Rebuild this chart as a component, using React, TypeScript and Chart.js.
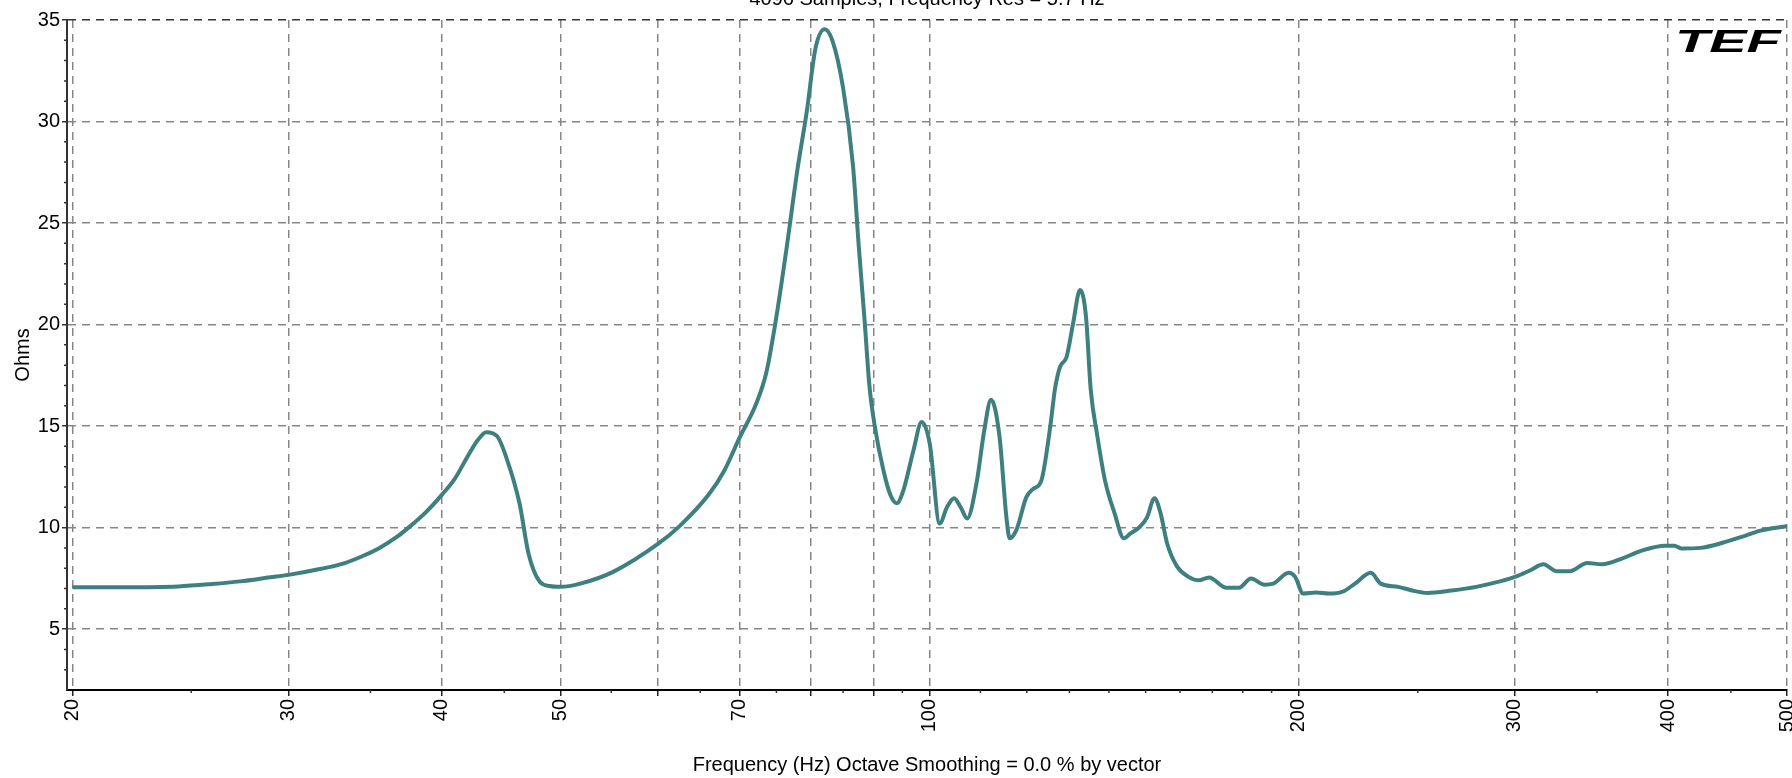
import React, { useEffect, useRef } from "react";
import { Chart, registerables } from "chart.js";

Chart.register(...registerables);

const freqs: number[] = [
  20, 22, 24.4, 26, 27.4, 29, 30, 31.9, 33.3, 34.5, 35.6, 36.7, 37.7, 38.9, 40,
  41, 42, 42.8, 43.5, 44.4, 45.2, 46.3, 47.1, 48.1, 49, 50, 51.9, 55.2, 60,
  62.5, 66, 68, 70, 72.2, 73.6, 75, 76.5, 78, 79.4, 80.7, 82.1, 83.3, 85, 86.6,
  87.5, 88.5, 89.3, 90.2, 91.7, 92.9, 94, 95.2, 97, 98.5, 100, 101.9, 103.3,
  104.7, 106, 107.3, 109.2, 110.8, 112.2, 114, 115.5, 116.2, 117.7, 119.9,
  121.4, 123.3, 125.4, 126.5, 127.7, 129.3, 130.9, 132.6, 134.1, 135.3, 137,
  139, 141.5, 144, 145.7, 148.4, 150.4, 152.5, 154.2, 156.2, 158.9, 162.6,
  165.7, 169, 174.4, 178.7, 182.8, 187.5, 190.6, 196.2, 198.6, 201.6, 206.6,
  211.6, 216.9, 222.2, 228.9, 233.2, 241, 247.4, 254.5, 266.4, 279, 292.2, 300,
  308.9, 316.5, 324.5, 332.4, 343.6, 353.3, 366.7, 380.1, 397.6, 404.7, 410,
  425, 443, 459, 475, 500,
];

const ohms: number[] = [
  7.06, 7.06, 7.1, 7.22, 7.35, 7.55, 7.67, 7.97, 8.24, 8.6, 9.0, 9.5, 10.06,
  10.8, 11.6, 12.4, 13.5, 14.3, 14.7, 14.5, 13.4, 11.2, 8.7, 7.33, 7.12, 7.08,
  7.24, 7.82, 9.18, 10.06, 11.6, 12.8, 14.44, 16.1, 17.65, 20.4, 23.9, 27.6,
  30.5, 33.6, 34.55, 34.0, 31.65, 27.8, 24.0, 20.2, 17.0, 15.0, 12.8, 11.6,
  11.2, 11.85, 13.8, 15.2, 14.15, 10.2, 11.0, 11.45, 11.0, 10.45, 12.2, 14.8,
  16.3, 14.5, 10.5, 9.47, 9.9, 11.5, 11.9, 12.3, 14.97, 16.8, 17.9, 18.4,
  20.06, 21.7, 20.4, 16.8, 14.5, 12.3, 10.7, 9.47, 9.7, 10.04, 10.5, 11.45,
  10.75, 9.2, 8.14, 7.57, 7.4, 7.54, 7.04, 7.04, 7.49, 7.19, 7.24, 7.77, 7.57,
  6.75, 6.8, 6.75, 6.83, 7.24, 7.77, 7.24, 7.08, 6.9, 6.78, 6.9, 7.08, 7.36,
  7.57, 7.9, 8.19, 7.85, 7.85, 8.26, 8.19, 8.47, 8.85, 9.11, 9.11, 8.97, 9.0,
  9.25, 9.54, 9.84, 10.07,
];

const xGridTicks: number[] = [20, 30, 40, 50, 60, 70, 80, 90, 100, 200, 300, 400, 500];
const xLabelTicks: number[] = [20, 30, 40, 50, 70, 100, 200, 300, 400, 500];
const xMinorTicks: number[] = [
  25, 35, 45, 55, 65, 75, 85, 95, 110, 120, 130, 140, 150, 160, 170, 180, 190,
  250, 350, 450,
];
const yTicks: number[] = [5, 10, 15, 20, 25, 30, 35];
const yMinorTicks: number[] = [
  3, 4, 6, 7, 8, 9, 11, 12, 13, 14, 16, 17, 18, 19, 21, 22, 23, 24, 26, 27, 28,
  29, 31, 32, 33, 34,
];

const topTitle = "4096 Samples, Frequency Res = 5.7 Hz";
const xTitle = "Frequency (Hz) Octave Smoothing = 0.0 % by vector";
const yTitle = "Ohms";
const logoText = "TEF";

const FONT = "'Liberation Sans', Arial, sans-serif";

export default function App() {
  const ref = useRef<HTMLCanvasElement | null>(null);

  useEffect(() => {
    document.body.style.margin = "0";
    document.body.style.overflow = "hidden";
    const canvas = ref.current;
    if (!canvas) return;

    const extras = {
      id: "extras",
      afterDraw(chart: any) {
        const ctx = chart.ctx;
        const xs = chart.scales.x;
        const ys = chart.scales.y;
        const area = chart.chartArea;
        ctx.save();
        ctx.strokeStyle = "#333";
        ctx.lineWidth = 1.5;
        ctx.beginPath();
        yMinorTicks.forEach((v) => {
          const py = ys.getPixelForValue(v);
          ctx.moveTo(area.left - 3, py);
          ctx.lineTo(area.left, py);
        });
        xMinorTicks.forEach((v) => {
          const px = xs.getPixelForValue(v);
          ctx.moveTo(px, area.bottom);
          ctx.lineTo(px, area.bottom + 3);
        });
        ctx.stroke();
        ctx.fillStyle = "#000";
        ctx.font = `20px ${FONT}`;
        ctx.textAlign = "center";
        ctx.textBaseline = "alphabetic";
        ctx.fillText(topTitle, (area.left + area.right) / 2, 5);
        ctx.translate(area.right - 112, 52);
        ctx.scale(1.75, 1);
        ctx.font = `italic bold 32px ${FONT}`;
        ctx.textAlign = "left";
        ctx.fillText(logoText, 0, 0);
        ctx.restore();
      },
    };

    const chart = new Chart(canvas, {
      type: "line",
      data: {
        datasets: [
          {
            data: freqs.map((f, i) => ({ x: f, y: ohms[i] })),
            borderColor: "#3e8080",
            borderWidth: 4,
            pointRadius: 0,
            fill: false,
            cubicInterpolationMode: "monotone",
          },
        ],
      },
      options: {
        animation: false,
        responsive: false,
        devicePixelRatio: 1,
        parsing: false as any,
        layout: { padding: { top: 20, right: 5, left: 0, bottom: 0 } },
        plugins: {
          legend: { display: false },
          tooltip: { enabled: false },
          title: { display: false },
        },
        scales: {
          x: {
            type: "logarithmic",
            min: 19.8,
            max: 500,
            afterBuildTicks: (s: any) => {
              s.ticks = xGridTicks.map((v) => ({ value: v }));
            },
            afterFit: (s: any) => {
              s.height = 88;
              s.paddingLeft = 0;
              s.paddingRight = 0;
            },
            ticks: {
              autoSkip: false,
              maxRotation: 90,
              minRotation: 90,
              padding: 3,
              color: "#000",
              font: { family: FONT, size: 20 },
              callback: (v: any) => (xLabelTicks.includes(Number(v)) ? String(v) : ""),
            },
            grid: {
              color: "#878787",
              lineWidth: 1.5,
              tickLength: 6,
              tickColor: "#222",
              tickWidth: 1.5,
            },
            border: { display: true, color: "#000", width: 2, dash: [8, 6] },
            title: {
              display: true,
              text: xTitle,
              color: "#000",
              font: { family: FONT, size: 20 },
              padding: { top: 0, bottom: 1 },
            },
          },
          y: {
            type: "linear",
            min: 2,
            max: 35,
            afterBuildTicks: (s: any) => {
              s.ticks = yTicks.map((v) => ({ value: v }));
            },
            afterFit: (s: any) => {
              s.width = 67;
              s.paddingTop = 0;
              s.paddingBottom = 0;
            },
            ticks: {
              padding: 2,
              color: "#000",
              font: { family: FONT, size: 20 },
            },
            grid: {
              color: (c: any) => (c.tick && c.tick.value === 35 ? "#333" : "#878787"),
              lineWidth: 1.5,
              tickLength: 5,
              tickColor: "#333",
              tickWidth: 1.5,
            },
            border: { display: true, color: "#333", width: 2, dash: [8, 6] },
            title: {
              display: true,
              text: yTitle,
              color: "#000",
              font: { family: FONT, size: 20 },
              padding: { top: 11, bottom: 0 },
            },
          },
        },
      },
      plugins: [extras],
    } as any);

    return () => {
      chart.destroy();
    };
  }, []);

  return (
    <div style={{ width: 1792, height: 778, background: "#fff" }}>
      <canvas ref={ref} width={1792} height={778} style={{ display: "block", width: 1792, height: 778 }} />
    </div>
  );
}
